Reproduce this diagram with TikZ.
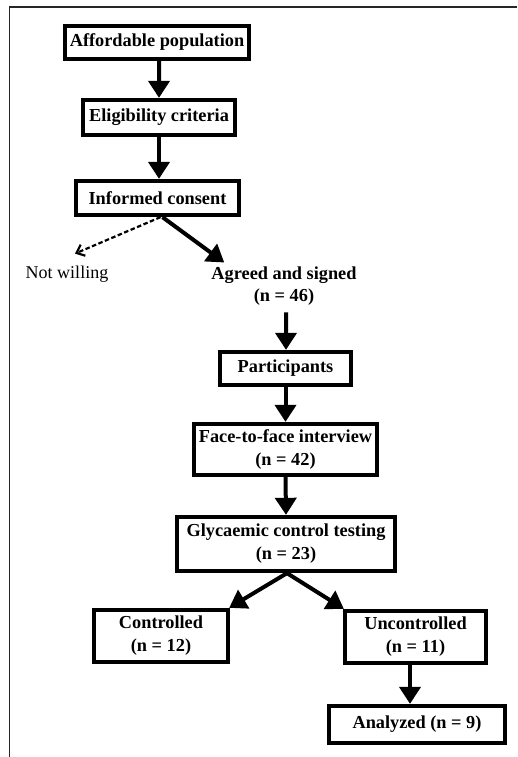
\documentclass[tikz,border=0pt]{standalone}
\usepackage{fontspec}
\setmainfont{Liberation Serif}
\usetikzlibrary{arrows.meta}
\begin{document}
\begin{tikzpicture}[x=1bp,y=-1bp,
  every node/.style={font=\fontsize{18bp}{23bp}\selectfont},
  box/.style={draw,line width=4.3bp,align=center,inner sep=2bp,font=\fontsize{18.3bp}{23bp}\selectfont\bfseries},
  plain/.style={inner sep=0pt,align=center},
  arr/.style={line width=4bp,-{Triangle[width=21bp,length=17bp]}},
  darr/.style={line width=2.2bp,dash pattern=on 4.5bp off 2.5bp,-{Straight Barb[width=12bp,length=7bp,line width=2.2bp]}},
  frame/.style={line width=1.6bp,draw=black!85}]
\useasboundingbox (0,0) rectangle (518,757);
\draw[frame] (9.5,757) -- (9.5,7) -- (517,7);

\node[box,minimum width=184bp,minimum height=33bp] (afford) at (157,42.5) {Affordable population};
\node[box,minimum width=152bp,minimum height=35bp] (elig) at (159,117.5) {Eligibility criteria};
\node[box,minimum width=163bp,minimum height=34bp] (consent) at (157.5,198) {Informed consent};
\node[plain] (notw) at (67,274) {Not willing};
\node[plain,font=\fontsize{18.3bp}{22bp}\selectfont\bfseries] (agreed) at (284,286) {Agreed and signed\\(n = 46)};
\node[box,minimum width=131bp,minimum height=33bp] (part) at (285.5,368.5) {Participants};
\node[box,minimum width=183bp,minimum height=51bp] (face) at (285.5,449.5) {Face-to-face interview\\(n = 42)};
\node[box,minimum width=218bp,minimum height=54bp] (glyc) at (286,544) {Glycaemic control testing\\(n = 23)};
\node[box,minimum width=134bp,minimum height=52bp] (ctrl) at (161,636) {Controlled\\(n = 12)};
\node[box,minimum width=141bp,minimum height=52bp] (unctrl) at (415.5,637) {Uncontrolled\\(n = 11)};
\node[box,minimum width=176bp,minimum height=37bp] (anal) at (417,724.5) {Analyzed (n = 9)};

\draw[arr] ([xshift=2bp]afford.south) -- (elig.north);
\draw[arr] (elig.north |- elig.south) -- (elig.north |- consent.north);
\draw[darr] ([xshift=3bp]consent.south) -- ([xshift=8bp,yshift=12bp]notw.north);
\draw[arr] ([xshift=5bp]consent.south) -- ([xshift=13bp,yshift=4bp]agreed.north west);
\draw[arr] ([xshift=2bp,yshift=-7bp]agreed.south) -- ([xshift=0.5bp]part.north);
\draw[arr] (part.south) -- (face.north);
\draw[arr] (face.south) -- (glyc.north);
\draw[arr] ([xshift=1bp]glyc.south) -- ([xshift=-1bp]ctrl.north east);
\draw[arr] ([xshift=1bp]glyc.south) -- ([xshift=1bp]unctrl.north west);
\draw[arr] ([xshift=-5.5bp]unctrl.south) -- ([xshift=-5.5bp]unctrl.south |- anal.north);
\end{tikzpicture}
\end{document}
